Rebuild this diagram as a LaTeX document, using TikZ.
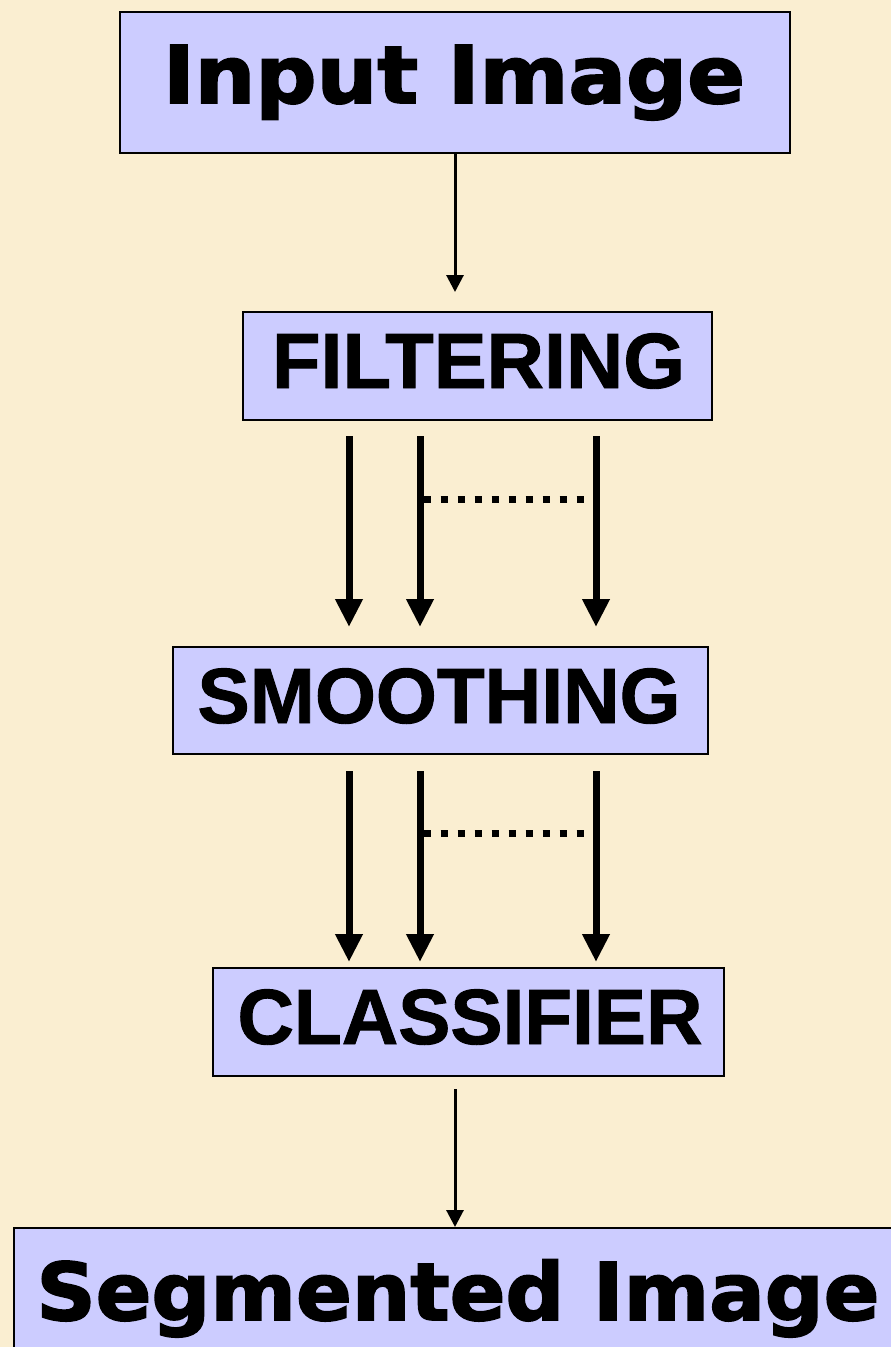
\documentclass[tikz,border=0pt]{standalone}
\usepackage{fontspec}
\setmainfont[BoldFeatures={FakeBold=1.2}]{Liberation Sans}
\newfontfamily\verdfont[BoldFeatures={FakeBold=2.2}]{DejaVu Sans}
\usetikzlibrary{arrows.meta}
\definecolor{bgbeige}{HTML}{FAEED1}
\definecolor{boxblue}{HTML}{CCCCFF}
\newcommand\fitw[2]{\resizebox{#1}{\height}{#2}}
\begin{document}
\begin{tikzpicture}[x=1pt,y=-1pt,
  boxnode/.style={draw=black,line width=2pt,fill=boxblue,inner sep=0pt,minimum width=#1},
  capstext/.style={anchor=base,inner sep=0pt,font=\fontsize{78.3pt}{80pt}\selectfont\bfseries},
  verdtext/.style={anchor=base,inner sep=0pt,font=\verdfont\fontsize{79.6pt}{82pt}\selectfont\bfseries},
  thinarrow/.style={line width=3pt,-{Triangle[length=17pt,width=17pt]}},
  fatarrow/.style={line width=7pt,-{Triangle[length=28pt,width=26pt]}},
  dotline/.style={line width=7pt,dash pattern=on 7pt off 10pt}]
\fill[bgbeige] (0,0) rectangle (891,1347);
\useasboundingbox (0,0) rectangle (891,1347);
\clip (0,0) rectangle (891,1347);
% boxes
\node[boxnode=670pt,minimum height=141pt] (in) at (455,82.5) {};
\node[boxnode=469pt,minimum height=108pt] (filt) at (477.5,366) {};
\node[boxnode=535pt,minimum height=107pt] (smooth) at (440.5,700.5) {};
\node[boxnode=511pt,minimum height=108pt] (cls) at (468.5,1022) {};
\node[boxnode=888pt,minimum height=160pt] (seg) at (458,1308) {};
% texts
\node[verdtext] (tin) at (454,103) {\fitw{582pt}{Input Image}};
\node[capstext] (tfilt) at (478.5,388) {\fitw{413pt}{FILTERING}};
\node[capstext] (tsmooth) at (439,723) {\fitw{483pt}{SMOOTHING}};
\node[capstext] (tcls) at (470,1044) {\fitw{465pt}{CLASSIFIER}};
\node[verdtext] (tseg) at (458,1320) {\fitw{843pt}{Segmented Image}};
% column positions
\coordinate (c1) at (349,0);
\coordinate (c2) at (420,0);
\coordinate (c3) at (596,0);
\coordinate (cm) at (455,0);
% connectors
\draw[thinarrow] (in.south -| cm) -- ([yshift=19pt]filt.north -| cm);
\foreach \c in {c1,c2,c3}{
  \draw[fatarrow] ([yshift=-15pt]filt.south -| \c) -- ([yshift=19pt]smooth.north -| \c);
  \draw[fatarrow] ([yshift=-16pt]smooth.south -| \c) -- ([yshift=5pt]cls.north -| \c);
}
\coordinate (d1a) at (423,499);
\coordinate (d1b) at (590,499);
\draw[dotline] (d1a -| c2) ++(3.5,0) -- (d1b);
\coordinate (d2a) at (423,833);
\coordinate (d2b) at (590,833);
\draw[dotline] (d2a -| c2) ++(3.5,0) -- (d2b);
\draw[thinarrow] ([yshift=-12pt]cls.south -| cm) -- (seg.north -| cm);
\end{tikzpicture}
\end{document}
